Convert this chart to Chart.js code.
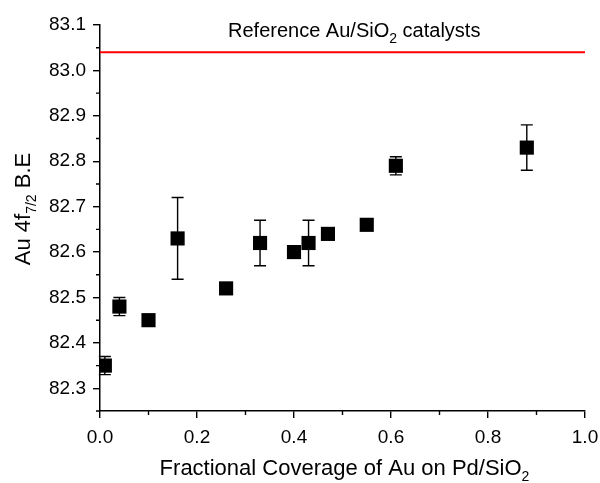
<!DOCTYPE html>
<html><head><meta charset="utf-8">
<script src="https://cdn.jsdelivr.net/npm/chart.js@4"></script>
<style>html,body{margin:0;padding:0;background:#fff}</style>
</head><body>
<canvas id="c" width="600" height="483"></canvas>
<script>
const coverage      = [0.01, 0.04, 0.10, 0.16, 0.26, 0.33, 0.40, 0.43, 0.47, 0.55, 0.61, 0.88];
const bindingEnergy = [82.35, 82.48, 82.45, 82.63, 82.52, 82.62, 82.60, 82.62, 82.64, 82.66, 82.79, 82.83];
const errorBar      = [0.02, 0.02, 0, 0.09, 0, 0.05, 0, 0.05, 0, 0, 0.02, 0.05];
const referenceBE = 83.04;
const xTicks = [0, 0.2, 0.4, 0.6, 0.8, 1.0];
const xMinorTicks = [0.1, 0.3, 0.5, 0.7, 0.9];
const yTicks = [82.3, 82.4, 82.5, 82.6, 82.7, 82.8, 82.9, 83.0, 83.1];
const yMinorTicks = [82.25, 82.35, 82.45, 82.55, 82.65, 82.75, 82.85, 82.95, 83.05];
const refLabel = [{t:'Reference Au/SiO'},{t:'2',sub:true},{t:' catalysts'}];
const xTitle = [{t:'Fractional Coverage of Au on Pd/SiO'},{t:'2',sub:true}];
const yTitle = [{t:'Au 4f'},{t:'7/2',sub:true},{t:' B.E'}];

const FONT = 'Arial, "Liberation Sans", sans-serif';
const TXT = 20, TITLE = 22, SUB = 14;

function richWidth(ctx, parts, size) {
  let w = 0;
  for (const p of parts) { ctx.font = (p.sub ? SUB : size) + 'px ' + FONT; w += ctx.measureText(p.t).width; }
  return w;
}
function drawRich(ctx, parts, x, y, size) {
  let cx = x;
  ctx.textBaseline = 'alphabetic'; ctx.textAlign = 'left'; ctx.fillStyle = '#000';
  for (const p of parts) {
    ctx.font = (p.sub ? SUB : size) + 'px ' + FONT;
    ctx.fillText(p.t, cx, p.sub ? y + 6 : y);
    cx += ctx.measureText(p.t).width;
  }
}

const extras = {
  id: 'extras',
  beforeDatasetsDraw(chart) {
    const ctx = chart.ctx, xs = chart.scales.x, ys = chart.scales.y;
    ctx.save();
    ctx.strokeStyle = '#000'; ctx.lineWidth = 1.4;
    coverage.forEach((cv, i) => {
      const e = errorBar[i]; if (!e) return;
      const px = xs.getPixelForValue(cv);
      const top = ys.getPixelForValue(bindingEnergy[i] + e);
      const bot = ys.getPixelForValue(bindingEnergy[i] - e);
      ctx.beginPath();
      ctx.moveTo(px, top); ctx.lineTo(px, bot);
      ctx.moveTo(px - 6, top); ctx.lineTo(px + 6, top);
      ctx.moveTo(px - 6, bot); ctx.lineTo(px + 6, bot);
      ctx.stroke();
    });
    ctx.restore();
  },
  afterDraw(chart) {
    const ctx = chart.ctx, xs = chart.scales.x, ys = chart.scales.y, ca = chart.chartArea;
    ctx.save();
    ctx.strokeStyle = '#000'; ctx.lineWidth = 1.4;
    ctx.beginPath();
    xMinorTicks.forEach(v => { const p = xs.getPixelForValue(v); ctx.moveTo(p, ca.bottom); ctx.lineTo(p, ca.bottom + 4); });
    yMinorTicks.forEach(v => { const p = ys.getPixelForValue(v); ctx.moveTo(ca.left, p); ctx.lineTo(ca.left - 4, p); });
    ctx.stroke();
    drawRich(ctx, refLabel, xs.getPixelForValue(0.264), ys.getPixelForValue(referenceBE) - 15, TXT);
    const wx = richWidth(ctx, xTitle, TITLE);
    drawRich(ctx, xTitle, (ca.left + ca.right) / 2 - wx / 2 + 2, 475, TITLE);
    const wy = richWidth(ctx, yTitle, TITLE);
    ctx.translate(30, (ca.top + ca.bottom) / 2 - 9);
    ctx.rotate(-Math.PI / 2);
    drawRich(ctx, yTitle, -wy / 2, 0, TITLE);
    ctx.restore();
  }
};

new Chart(document.getElementById('c').getContext('2d'), {
  type: 'scatter',
  data: {
    datasets: [
      { type: 'line', label: 'Reference', data: [{x: 0, y: referenceBE}, {x: 1, y: referenceBE}],
        borderColor: '#ff0000', borderWidth: 2, pointRadius: 0, fill: false },
      { label: 'Au 4f', data: coverage.map((x, i) => ({x, y: bindingEnergy[i]})),
        pointStyle: 'rect', pointRadius: 10, backgroundColor: '#000', borderColor: '#000', borderWidth: 0 }
    ]
  },
  options: {
    responsive: false, animation: false,
    layout: { padding: { top: 25, right: 15, left: 0, bottom: 0 }, autoPadding: false },
    plugins: { legend: { display: false }, tooltip: { enabled: false } },
    scales: {
      x: {
        type: 'linear', min: 0, max: 1,
        afterBuildTicks: s => { s.ticks = xTicks.map(v => ({value: v})); },
        afterFit: s => { s.height = 72; s.paddingLeft = 0; s.paddingRight = 0; s.paddingTop = 0; s.paddingBottom = 0; },
        ticks: { callback: v => v.toFixed(1), color: '#000', font: { size: 19, family: FONT }, padding: 8, maxRotation: 0 },
        grid: { drawOnChartArea: false, drawTicks: true, tickLength: 7, color: '#000', lineWidth: 1.4 },
        border: { color: '#000', width: 1.5 }
      },
      y: {
        type: 'linear', min: 82.25, max: 83.1,
        afterBuildTicks: s => { s.ticks = yTicks.map(v => ({value: v})); },
        afterFit: s => { s.width = 100; s.paddingLeft = 0; s.paddingRight = 0; s.paddingTop = 0; s.paddingBottom = 0; },
        ticks: { callback: v => v.toFixed(1), color: '#000', font: { size: 19, family: FONT }, padding: 7 },
        grid: { drawOnChartArea: false, drawTicks: true, tickLength: 7, color: '#000', lineWidth: 1.4 },
        border: { color: '#000', width: 1.5 }
      }
    }
  },
  plugins: [extras]
});
</script>
</body></html>
